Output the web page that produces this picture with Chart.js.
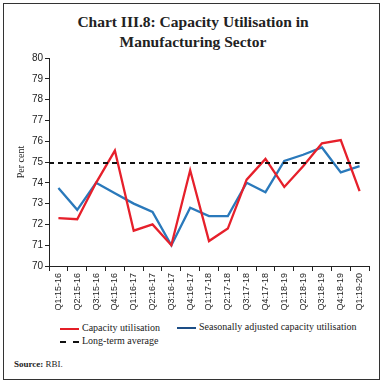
<!DOCTYPE html>
<html>
<head>
<meta charset="utf-8">
<script src="https://cdn.jsdelivr.net/npm/chart.js@4.4.1/dist/chart.umd.min.js"></script>
<style>
  html, body { margin: 0; padding: 0; background: #fff; }
  #frame {
    position: absolute; left: 3px; top: 3px; width: 375px; height: 375px;
    border: 1.5px solid #333; box-sizing: content-box;
  }
  #title {
    position: absolute; left: 0; top: 12px; width: 386px; text-align: center;
    font-family: "Liberation Serif", "DejaVu Serif", serif; font-weight: bold;
    font-size: 15.5px; line-height: 20px; color: #222;
  }
  #wrap { position: absolute; left: 4px; top: 50px; width: 376px; height: 265px; }
  .leg {
    position: absolute; font-family: "Liberation Serif", "DejaVu Serif", serif;
    font-size: 10px; color: #222; white-space: nowrap;
  }
  .leg i { display: inline-block; width: 19px; height: 0; vertical-align: middle; margin-right: 3px; }
  #source {
    position: absolute; left: 14px; top: 359px; font-family: "Liberation Serif", serif;
    font-size: 9px; color: #222;
  }
</style>
</head>
<body>
<div id="frame"></div>
<div id="title">Chart III.8: Capacity Utilisation in<br>Manufacturing Sector</div>
<div id="wrap"><canvas id="cuChart"></canvas></div>
<div class="leg" style="left:60px; top:322px;"><i style="border-top:2.5px solid #e41e26;"></i>Capacity utilisation</div>
<div class="leg" style="left:177px; top:321px;"><i style="border-top:2.5px solid #1d4e86;"></i>Seasonally adjusted capacity utilisation</div>
<div class="leg" style="left:60px; top:335px;"><i style="border-top:2px dashed #111;"></i>Long-term average</div>
<div id="source"><b>Source:</b> RBI.</div>
<script>
const quarters = ["Q1:15-16", "Q2:15-16", "Q3:15-16", "Q4:15-16", "Q1:16-17", "Q2:16-17", "Q3:16-17", "Q4:16-17",
    "Q1:17-18", "Q2:17-18", "Q3:17-18", "Q4:17-18", "Q1:18-19", "Q2:18-19", "Q3:18-19", "Q4:18-19", "Q1:19-20"];
const capacityUtil = [72.3, 72.25, 74.0, 75.55, 71.7, 72.0, 71.0, 74.6, 71.2, 71.8, 74.15, 75.15, 73.8, 74.8, 75.9, 76.05, 73.6];
const seasonallyAdj = [73.75, 72.7, 74.0, 73.5, 73.0, 72.6, 71.0, 72.8, 72.4, 72.4, 74.0, 73.55, 75.05, 75.35, 75.7, 74.5, 74.8];
const longTermAvg = 74.95;
const yTicks = [70, 71, 72, 73, 74, 75, 76, 77, 78, 79, 80];

const ctx = document.getElementById('cuChart').getContext('2d');
new Chart(ctx, {
    type: 'line',
    data: {
        labels: quarters,
        datasets: [
            {
                label: 'Long-term average',
                xAxisID: 'x2',
                data: [{x: -0.5, y: longTermAvg}, {x: quarters.length - 1, y: longTermAvg}],
                borderColor: '#111',
                borderWidth: 2,
                borderDash: [5, 4],
                pointRadius: 0,
                tension: 0
            },
            {
                label: 'Capacity utilisation',
                data: capacityUtil,
                borderColor: '#e6202b',
                borderWidth: 2.3,
                pointRadius: 0,
                tension: 0
            },
            {
                label: 'Seasonally adjusted capacity utilisation',
                data: seasonallyAdj,
                borderColor: '#2a79bb',
                borderWidth: 2.3,
                pointRadius: 0,
                tension: 0
            }
        ]
    },
    options: {
        responsive: true,
        maintainAspectRatio: false,
        animation: false,
        layout: { padding: { top: 8, right: 11, left: 0, bottom: 0 } },
        plugins: { legend: { display: false }, tooltip: { enabled: false } },
        scales: {
            x: {
                offset: true,
                grid: { offset: true, drawOnChartArea: false, drawTicks: true, tickLength: 5, color: '#222' },
                border: { color: '#222', width: 1 },
                ticks: {
                    autoSkip: false, maxRotation: 90, minRotation: 90, padding: 2,
                    color: '#222', font: { family: 'Liberation Sans', size: 9 }
                },
                afterFit: function(scale) { scale.height = 49; }
            },
            x2: {
                type: 'linear', display: false, min: -0.5, max: quarters.length - 0.5
            },
            y: {
                min: 70, max: 80,
                afterBuildTicks: function(scale) { scale.ticks = yTicks.map(v => ({value: v})); },
                grid: { drawOnChartArea: false, drawTicks: true, tickLength: 4, color: '#222' },
                border: { color: '#222', width: 1 },
                ticks: { padding: 2, color: '#222', font: { family: 'Liberation Sans', size: 10 } },
                title: {
                    display: true, text: 'Per cent', color: '#222', padding: { top: 11, bottom: 0 },
                    font: { family: 'Liberation Serif', size: 10 }
                },
                afterFit: function(scale) { scale.width = 45; }
            }
        }
    }
});
</script>
</body>
</html>
